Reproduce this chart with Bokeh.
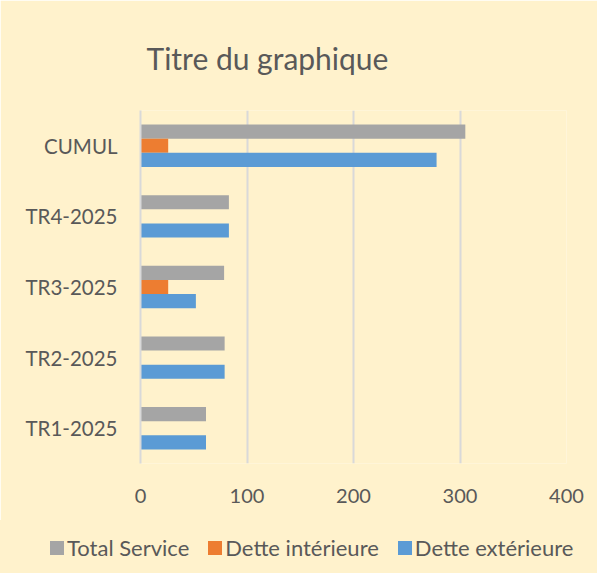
from bokeh.plotting import figure
from bokeh.layouts import column
from bokeh.models import ColumnDataSource, FactorRange, FixedTicker, Range1d, Div
from bokeh.transform import dodge
from bokeh.embed import file_html
from bokeh.resources import INLINE

categories = ["TR1-2025", "TR2-2025", "TR3-2025", "TR4-2025", "CUMUL"]
total_service = [61.5, 79, 78.5, 83, 305]
dette_interieure = [0, 0, 26, 0, 26]
dette_exterieure = [61.5, 79, 52, 83, 278]
x_ticks = [0, 100, 200, 300, 400]
series_names = ["Total Service", "Dette intérieure", "Dette extérieure"]
series_colors = ["#A5A5A5", "#ED7D31", "#5B9BD5"]

BG = "#FFF2CC"
TXT = "#595959"
FONT = "Lato"

src = ColumnDataSource(dict(cat=categories, tot=total_service, inn=dette_interieure, ext=dette_exterieure))

p = figure(width=597, height=520, y_range=FactorRange(*categories), x_range=Range1d(0, 400),
           output_backend="svg", toolbar_location=None,
           min_border_left=140, min_border_right=31, min_border_top=110, min_border_bottom=57)
p.background_fill_color = BG
p.border_fill_color = BG
p.outline_line_color = None

for col, off, color, name in zip(["tot", "inn", "ext"], [0.2, 0.0, -0.2], series_colors, series_names):
    p.hbar(y=dodge("cat", off, range=p.y_range), left=0, right=col, height=0.2, source=src,
           fill_color=color, line_color=None, name=name)

p.title.text = "Titre du graphique"
p.title.align = "left"
p.title.offset = 6
p.title.standoff = 70
p.title.text_font = FONT
p.title.text_font_size = "30px"
p.title.text_font_style = "normal"
p.title.text_color = TXT

p.xaxis.ticker = FixedTicker(ticks=x_ticks)
p.xaxis.axis_line_color = None
p.xaxis.major_tick_line_color = None
p.xaxis.minor_tick_line_color = None
p.xaxis.major_label_text_font = FONT
p.xaxis.major_label_text_font_size = "20px"
p.xaxis.major_label_text_color = TXT
p.xaxis.major_label_standoff = 19

p.yaxis.axis_line_color = "#D9D9D9"
p.yaxis.axis_line_width = 2
p.yaxis.major_tick_line_color = None
p.yaxis.minor_tick_line_color = None
p.yaxis.major_label_text_font = FONT
p.yaxis.major_label_text_font_size = "20.5px"
p.yaxis.major_label_text_color = TXT
p.yaxis.major_label_standoff = 17

p.xgrid.grid_line_color = "#D9D9D9"
p.xgrid.grid_line_width = 2
p.ygrid.grid_line_color = None

# legend strip (HTML text, same fonts/colours as the chart)
parts = []
for i, (name, color) in enumerate(zip(series_names, series_colors)):
    ml = 50 if i == 0 else 19
    parts.append(
        f'<span style="display:inline-block;width:14px;height:14px;background:{color};'
        f'margin-left:{ml}px;margin-right:3px;"></span>'
        f'<span style="white-space:nowrap;">{name}</span>'
    )
legend_html = (
    f'<div style="display:flex;align-items:center;height:53px;padding-top:2px;box-sizing:border-box;'
    f'font-family:{FONT};font-size:22px;color:{TXT};background:{BG};width:597px;">'
    + "".join(parts) + "</div>"
)
legend_div = Div(text=legend_html, width=597, height=53, margin=0,
                 styles={"background-color": BG})

layout = column(p, legend_div, spacing=0)
open("out.html", "w").write(file_html(layout, INLINE))
